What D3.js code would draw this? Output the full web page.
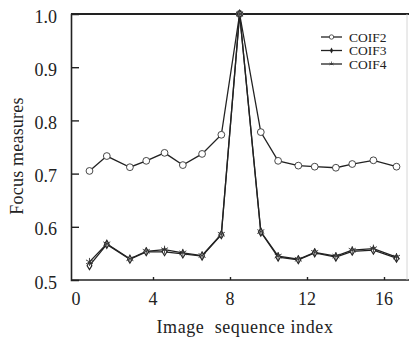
<!DOCTYPE html>
<html><head><meta charset="utf-8">
<script src="https://cdn.jsdelivr.net/npm/d3@7"></script>
<style>body{margin:0;background:#fff}svg{display:block}text{font-family:"Liberation Serif","Times New Roman",serif;fill:#222}</style>
</head><body><svg id="c" width="409" height="338"></svg>
<script>
const xIndex = [0.7,1.6,2.8,3.65,4.6,5.55,6.55,7.55,8.5,9.6,10.5,11.55,12.4,13.5,14.35,15.45,16.65];
const coif2 = [0.705,0.733,0.712,0.724,0.739,0.716,0.737,0.773,1.0,0.778,0.724,0.715,0.713,0.711,0.718,0.725,0.713];
const coif3 = [0.527,0.567,0.539,0.553,0.553,0.549,0.545,0.585,1.0,0.590,0.543,0.538,0.551,0.543,0.554,0.556,0.541];
const coif4 = [0.534,0.568,0.540,0.554,0.557,0.551,0.546,0.586,1.0,0.591,0.545,0.539,0.552,0.545,0.556,0.559,0.543];
const xTicks = [0,4,8,12,16];
const yTicks = [0.5,0.6,0.7,0.8,0.9,1.0];
const seriesNames = ["COIF2","COIF3","COIF4"];

const svg = d3.select("#c");
const L=71, R=407, T=14, B=280;
const x = d3.scaleLinear().domain([0,16]).range([76,384]);
const y = d3.scaleLinear().domain([0.5,1.0]).range([B,T]);

// axes
const gy = svg.append("g").attr("transform",`translate(${L},0)`)
  .call(d3.axisRight(y).tickValues(yTicks).tickFormat(d3.format(".1f")).tickSize(8).tickPadding(0));
gy.selectAll("text").remove();
gy.select(".domain").attr("stroke","#222").attr("stroke-width",1.6);
gy.selectAll(".tick line").attr("stroke","#222").attr("stroke-width",1.4);
gy.selectAll(".tick").filter(d=>d===1.0||d===0.5).select("line").remove();
svg.selectAll(".ylab").data(yTicks).join("text").attr("class","ylab")
  .attr("x",57).attr("y",d=>y(d)+8.5).attr("text-anchor","end").attr("font-size",18).text(d3.format(".1f"));

const gx = svg.append("g").attr("transform",`translate(0,${B})`)
  .call(d3.axisTop(x).tickValues(xTicks).tickSize(3).tickFormat(""));
gx.select(".domain").remove();
gx.selectAll(".tick line").attr("stroke","#222").attr("stroke-width",1.4);
gx.selectAll(".tick").filter(d=>d===0).remove();
svg.append("line").attr("x1",L).attr("x2",409).attr("y1",B).attr("y2",B).attr("stroke","#222").attr("stroke-width",1.6);
svg.append("line").attr("x1",L).attr("x2",409).attr("y1",T).attr("y2",T).attr("stroke","#222").attr("stroke-width",1.8);
svg.append("line").attr("x1",R).attr("x2",R).attr("y1",T).attr("y2",B).attr("stroke","#ccc").attr("stroke-width",0.8);
svg.selectAll(".xlab").data(xTicks).join("text").attr("class","xlab")
  .attr("x",d=>x(d)).attr("y",305).attr("text-anchor","middle").attr("font-size",18).text(d=>d);

svg.append("text").attr("x",245).attr("y",333).attr("text-anchor","middle").attr("font-size",18)
  .attr("letter-spacing",0.6).style("white-space","pre").text("Image  sequence index");
svg.append("text").attr("transform","translate(23,156) rotate(-90)").attr("text-anchor","middle")
  .attr("font-size",18).attr("letter-spacing",0.2).text("Focus measures");

const line = d3.line().x((d,i)=>x(xIndex[i])).y(d=>y(d));
const all = [coif2,coif3,coif4];
all.forEach(s=>{
  svg.append("path").datum(s).attr("d",line).attr("fill","none").attr("stroke","#222").attr("stroke-width",1.3);
});

function circleM(g){g.append("circle").attr("r",3.4).attr("fill","#fff").attr("stroke","#333").attr("stroke-width",0.9);}
function diamondM(g){g.append("path").attr("d","M0,-4L2.4,0L0,4L-2.4,0Z").attr("fill","#fff").attr("stroke","#222").attr("stroke-width",1.1);}
function starM(g){g.append("path").attr("d","M0,-4V4M-3.5,-2L3.5,2M-3.5,2L3.5,-2").attr("stroke","#333").attr("stroke-width",0.9);}
const markers=[circleM,diamondM,starM];

all.forEach((s,k)=>{
  s.forEach((v,i)=>{
    const g=svg.append("g").attr("transform",`translate(${x(xIndex[i])},${y(v)})`);
    markers[k](g);
  });
});

// legend
const ly=[37,50.5,64];
seriesNames.forEach((n,k)=>{
  svg.append("line").attr("x1",321).attr("x2",342).attr("y1",ly[k]).attr("y2",ly[k]).attr("stroke","#222").attr("stroke-width",1.3);
  const g=svg.append("g").attr("transform",`translate(331.5,${ly[k]})`);
  if(k===0){g.append("circle").attr("r",2.2).attr("fill","#fff").attr("stroke","#333").attr("stroke-width",0.8);}
  else if(k===1){g.append("path").attr("d","M0,-3L1.6,0L0,3L-1.6,0Z").attr("fill","#222");}
  else {g.append("path").attr("d","M0,-2.5V1M-2,-1L2,1M-2,1L2,-1").attr("stroke","#333").attr("stroke-width",0.7);}
  svg.append("text").attr("x",349).attr("y",ly[k]+4.5).attr("font-size",13.5).text(n);
});
</script></body></html>
